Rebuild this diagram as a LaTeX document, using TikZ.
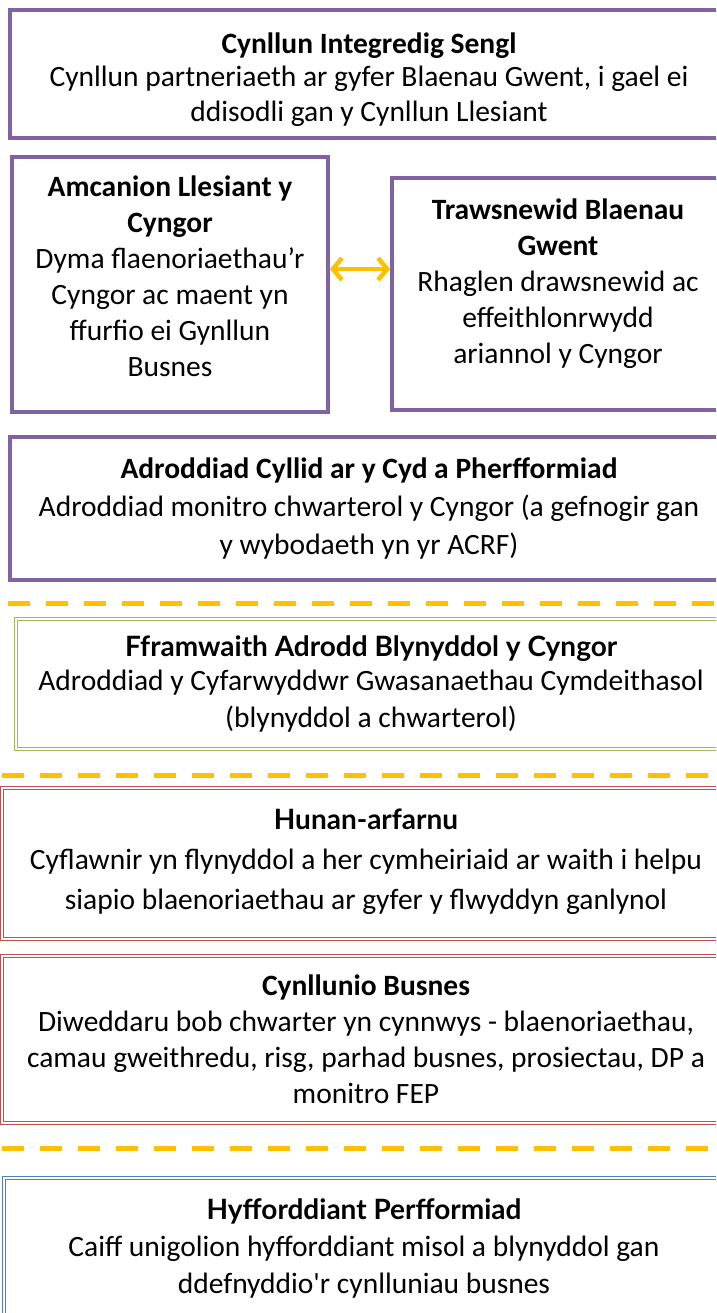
\documentclass[tikz,border=0pt]{standalone}
\usepackage{fontspec}
\setmainfont{Carlito}[Ligatures=TeXOff]
\newfontfamily\headfont{Lato}
\usetikzlibrary{arrows.meta,positioning}
\definecolor{plPurple}{HTML}{8064A2}
\definecolor{plGreen}{HTML}{9BBB59}
\definecolor{plRed}{HTML}{C0504D}
\definecolor{plBlue}{HTML}{4F81BD}
\definecolor{plGold}{HTML}{FFC000}
\newcommand{\bodyfont}[1]{\fontsize{29.5}{#1}\selectfont}
\newcommand{\headtitle}[1]{{\headfont\bfseries\fontsize{28}{30}\selectfont #1}}

\begin{document}
\begin{tikzpicture}[x=1pt,y=-1pt,
  every node/.style={align=center,inner sep=0pt},
  purplebox/.style={draw=plPurple,line width=4pt,rectangle},
  greenbox/.style={draw=plGreen,double=white,line width=1.2pt,double distance=2pt,rectangle},
  redbox/.style={draw=plRed,double=white,line width=1.2pt,double distance=2pt,rectangle},
  bluebox/.style={draw=plBlue,double=white,line width=1.2pt,double distance=2pt,rectangle},
  splitline/.style={draw=plGold,line width=5pt,dash pattern=on 22pt off 16pt},
  linkarrow/.style={draw=plGold,line width=4.5pt,{Straight Barb[length=9pt,width=22pt]}-{Straight Barb[length=9pt,width=22pt]}}]
    \clip (0,0) rectangle (716,1313);
    \fill[white] (0,0) rectangle (716,1313);

    % Top plan
    \node[purplebox,minimum width=718pt,minimum height=128pt,font=\bodyfont{35}] (integredig) at (369,74)
      {\rule{0pt}{32pt}\textbf{Cynllun Integredig Sengl}\\[-2pt]Cynllun partneriaeth ar gyfer Blaenau Gwent, i gael ei\\ddisodli gan y Cynllun Llesiant};

    % Objectives and programme
    \node[purplebox,minimum width=316pt,minimum height=255pt,font=\bodyfont{36}] (amcanion) at (170,284.5)
      {\textbf{Amcanion Llesiant y}\\\textbf{Cyngor}\\Dyma flaenoriaethau’r\\Cyngor ac maent yn\\ffurfio ei Gynllun\\Busnes\\[-20pt]};
    \node[purplebox,minimum width=332pt,minimum height=232pt,font=\bodyfont{36}] (trawsnewid) at (558,294)
      {\textbf{Trawsnewid Blaenau}\\\textbf{Gwent}\\Rhaglen drawsnewid ac\\effeithlonrwydd\\ariannol y Cyngor\\[-10pt]};
    \draw[linkarrow] ([yshift=15.5pt]amcanion.east) -- ([yshift=15.5pt]amcanion.east -| trawsnewid.west);

    % Reporting
    \node[purplebox,minimum width=718pt,minimum height=143pt,font=\bodyfont{38}] (adroddiad) at (369,508.5)
      {\textbf{Adroddiad Cyllid ar y Cyd a Pherfformiad}\\Adroddiad monitro chwarterol y Cyngor (a gefnogir gan\\y wybodaeth yn yr ACRF)};

    \draw[splitline] (8,603) -- (716,603);

    \node[greenbox,minimum width=710pt,minimum height=130pt,font=\bodyfont{37}] (fframwaith) at (371,684)
      {\headtitle{Fframwaith Adrodd Blynyddol y Cyngor}\\[-3pt]Adroddiad y Cyfarwyddwr Gwasanaethau Cymdeithasol\\(blynyddol a chwarterol)};

    \draw[splitline] (2,775) -- (716,775);

    % Self assessment and business planning
    \node[redbox,minimum width=728pt,minimum height=151pt,font=\bodyfont{40}] (hunan) at (366,863.5)
      {\headtitle{Hunan-arfarnu}\\Cyflawnir yn flynyddol a her cymheiriaid ar waith i helpu\\siapio blaenoriaethau ar gyfer y flwyddyn ganlynol\\[-32pt]};
    \node[redbox,minimum width=728pt,minimum height=167pt,font=\bodyfont{36}] (busnes) at (366,1039.5)
      {\textbf{Cynllunio Busnes}\\Diweddaru bob chwarter yn cynnwys - blaenoriaethau,\\camau gweithredu, risg, parhad busnes, prosiectau, DP a\\monitro FEP};

    \draw[splitline] (2,1148) -- (716,1148);

    \node[bluebox,minimum width=720pt,minimum height=140pt,font=\bodyfont{37}] (hyfforddiant) at (364,1248)
      {\headtitle{Hyfforddiant Perfformiad}\\Caiff unigolion hyfforddiant misol a blynyddol gan\\ddefnyddio'r cynlluniau busnes};
\end{tikzpicture}
\end{document}
